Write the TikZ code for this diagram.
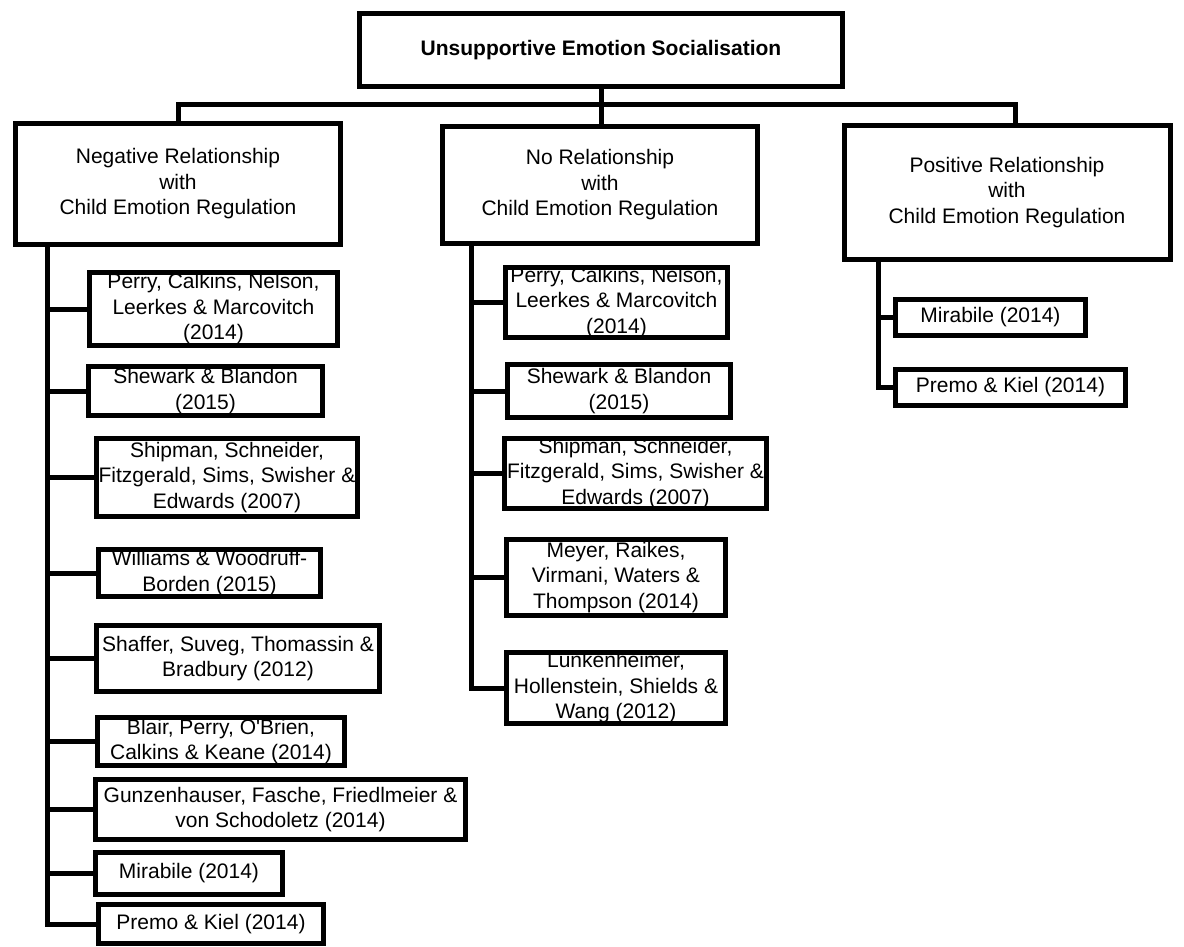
\documentclass[tikz,border=0pt]{standalone}
\usepackage{fontspec}
\setmainfont{Liberation Sans}
\usepackage{tikz}

\begin{document}
\begin{tikzpicture}[x=1pt, y=-1pt, line width=5pt, every node/.style={draw, align=center, inner sep=0pt, font=\fontsize{21}{25.5}\selectfont}]
                \useasboundingbox (0,0) rectangle (1184,947);

                \node[minimum width=483pt, minimum height=73pt, font=\fontsize{21}{25.5}\selectfont\bfseries] (root) at (601,50) {Unsupportive Emotion Socialisation};

                \node[minimum width=325pt, minimum height=121pt] (neg) at (178,184) {
                    Negative Relationship\\
                    with\\
                    Child Emotion Regulation
                };
                \node[minimum width=315pt, minimum height=117pt] (norel) at (600,185) {
                    No Relationship\\
                    with\\
                    Child Emotion Regulation
                };
                \node[minimum width=326pt, minimum height=134pt] (pos) at (1007,192.5) {
                    Positive Relationship\\
                    with\\
                    Child Emotion Regulation
                };

                % negative relationship
                \node[minimum width=248pt, minimum height=73pt] (negperry) at (213.5,309) {Perry, Calkins, Nelson,\\Leerkes \& Marcovitch\\(2014)};
                \node[minimum width=234pt, minimum height=49pt] (negshewark) at (205.5,391) {Shewark \& Blandon\\(2015)};
                \node[minimum width=261pt, minimum height=78pt] (negshipman) at (227,477.5) {Shipman, Schneider,\\Fitzgerald, Sims, Swisher \&\\Edwards (2007)};
                \node[minimum width=222pt, minimum height=47pt] (negwilliams) at (209.5,573) {Williams \& Woodruff-\\Borden (2015)};
                \node[minimum width=283pt, minimum height=66pt] (negshaffer) at (238,658.5) {Shaffer, Suveg, Thomassin \&\\Bradbury (2012)};
                \node[minimum width=247pt, minimum height=48pt] (negblair) at (221,741.5) {Blair, Perry, O\textquotesingle Brien,\\Calkins \& Keane (2014)};
                \node[minimum width=370pt, minimum height=60pt] (neggunz) at (280.5,809.5) {Gunzenhauser, Fasche, Friedlmeier \&\\von Schodoletz (2014)};
                \node[minimum width=187pt, minimum height=42pt] (negmirabile) at (189,873.5) {Mirabile (2014)};
                \node[minimum width=225pt, minimum height=39pt] (negpremo) at (211,924) {Premo \& Kiel (2014)};

                % no relationship
                \node[minimum width=222pt, minimum height=70pt] (noperry) at (616.5,302.5) {Perry, Calkins, Nelson,\\Leerkes \& Marcovitch\\(2014)};
                \node[minimum width=223pt, minimum height=53pt] (noshewark) at (619,391) {Shewark \& Blandon\\(2015)};
                \node[minimum width=262pt, minimum height=66pt] (noshipman) at (635.5,473.5) {Shipman, Schneider,\\Fitzgerald, Sims, Swisher \&\\Edwards (2007)};
                \node[minimum width=219pt, minimum height=76pt] (nomeyer) at (616,577.5) {Meyer, Raikes,\\Virmani, Waters \&\\Thompson (2014)};
                \node[minimum width=219pt, minimum height=71pt] (nolunk) at (616,688) {Lunkenheimer,\\Hollenstein, Shields \&\\Wang (2012)};

                % positive relationship
                \node[minimum width=190pt, minimum height=36pt] (posmirabile) at (990.5,317.5) {Mirabile (2014)};
                \node[minimum width=230pt, minimum height=36pt] (pospremo) at (1010.5,387.5) {Premo \& Kiel (2014)};

                \coordinate (bus) at (600,105);
                \coordinate (negtrunk) at ([xshift=-131pt]neg.south);
                \coordinate (notrunk) at ([xshift=-129pt]norel.south);
                \coordinate (postrunk) at ([xshift=-129pt]pos.south);

                \draw (root.south) -- (root.south |- norel.north);
                \draw (neg.north) |- (bus) -| ([xshift=8pt]pos.north);

                \draw (negtrunk) |- (negpremo.west);
                \foreach \n in {negperry, negshewark, negshipman, negwilliams, negshaffer, negblair, neggunz, negmirabile}
                    \draw (negtrunk |- \n.west) -- (\n.west);

                \draw (notrunk) |- (nolunk.west);
                \foreach \n in {noperry, noshewark, noshipman, nomeyer}
                    \draw (notrunk |- \n.west) -- (\n.west);

                \draw (postrunk) |- (pospremo.west);
                \draw (postrunk |- posmirabile.west) -- (posmirabile.west);
            \end{tikzpicture}
\end{document}
